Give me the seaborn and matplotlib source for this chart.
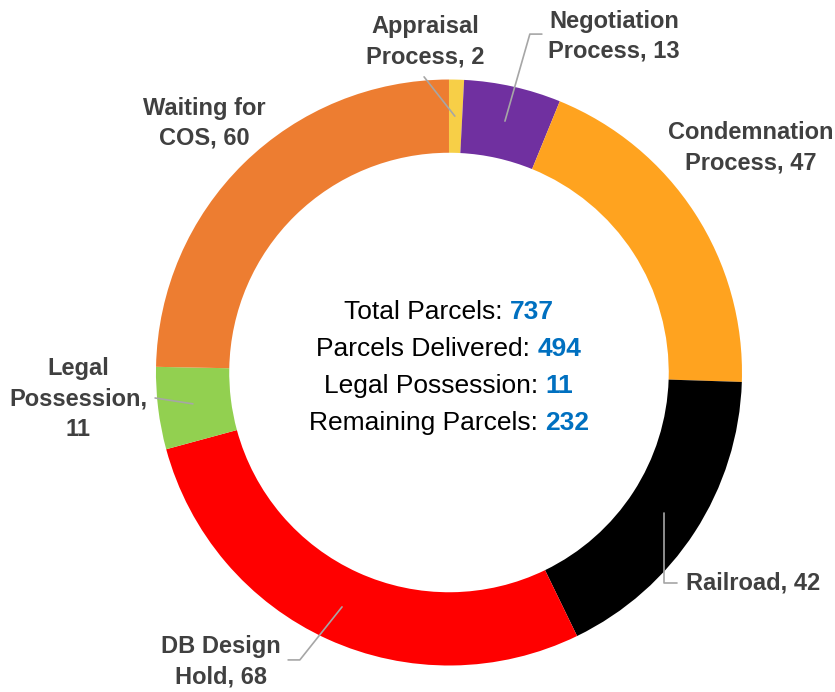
import matplotlib
matplotlib.use("Agg")
import matplotlib.pyplot as plt
import seaborn as sns

# ==========================
# Data
# ==========================

categories = ["Appraisal\nProcess", "Negotiation\nProcess", "Condemnation\nProcess",
              "Railroad", "DB Design\nHold", "Legal\nPossession,\n", "Waiting for\nCOS"]
counts = [2, 13, 47, 42, 68, 11, 60]
colors = ["#F7CF47", "#7030A0", "#FFA31F", "#000000", "#FF0000", "#92D050", "#ED7D31"]

summary_labels = ["Total Parcels: ", "Parcels Delivered: ", "Legal Possession: ", "Remaining Parcels: "]
summary_values = ["737", "494", "11", "232"]

sns.set_theme(style="white")
plt.rcParams["font.family"] = ["Liberation Sans", "DejaVu Sans"]

fig = plt.figure(figsize=(8.35, 6.92), dpi=100)
ax = fig.add_axes([0.1868, 0.0383, 0.7018, 0.8468])

ax.pie(counts, colors=colors, startangle=90, counterclock=False, radius=1,
       wedgeprops=dict(width=0.25, edgecolor="none"))
ax.set_xlim(-1, 1)
ax.set_ylim(-1, 1)
ax.set_aspect("auto")
ax.axis("off")

# ==========================
# Slice labels
# ==========================

label_color = "#404040"
line_color = "#A6A6A6"

texts = [
    ("Appraisal\nProcess, 2", (-0.082, 1.128), "center"),
    ("Negotiation\nProcess, 13", (0.563, 1.148), "center"),
    ("Condemnation\nProcess, 47", (1.031, 0.766), "center"),
    ("Railroad, 42", (0.809, -0.718), "left"),
    ("DB Design\nHold, 68", (-0.778, -0.988), "center"),
    ("Legal\nPossession,\n11", (-1.266, -0.090), "center"),
    ("Waiting for\nCOS, 60", (-0.836, 0.851), "center"),
]
for txt, (x, y), ha in texts:
    ax.text(x, y, txt, ha=ha, va="center", fontsize=17, fontweight="bold",
            color=label_color, linespacing=1.4, clip_on=False)

leaders = [
    ([-0.085, 0.020], [1.009, 0.875]),
    ([0.317, 0.276, 0.191], [1.155, 1.155, 0.858]),
    ([0.734, 0.734, 0.778], [-0.480, -0.718, -0.718]),
    ([-0.549, -0.509, -0.365], [-0.981, -0.981, -0.800]),
    ([-1.003, -0.874], [-0.087, -0.107]),
]
for xs, ys in leaders:
    ax.plot(xs, ys, color=line_color, lw=1.2, clip_on=False)

# ==========================
# Center summary
# ==========================

fig.canvas.draw()
renderer = fig.canvas.get_renderer()
px_per_unit = ax.transData.transform((1, 0))[0] - ax.transData.transform((0, 0))[0]
line_y = [0.207, 0.081, -0.045, -0.171]
for lab, val, y in zip(summary_labels, summary_values, line_y):
    t1 = ax.text(0, y, lab, ha="left", va="center", fontsize=19, color="black")
    t2 = ax.text(0, y, val, ha="left", va="center", fontsize=19, fontweight="bold",
                 color="#0070C0")
    w1 = t1.get_window_extent(renderer).width
    w2 = t2.get_window_extent(renderer).width
    start = -(w1 + w2) / 2 / px_per_unit
    t1.set_x(start)
    t2.set_x(start + w1 / px_per_unit)

fig.savefig("out.png", dpi=100)
